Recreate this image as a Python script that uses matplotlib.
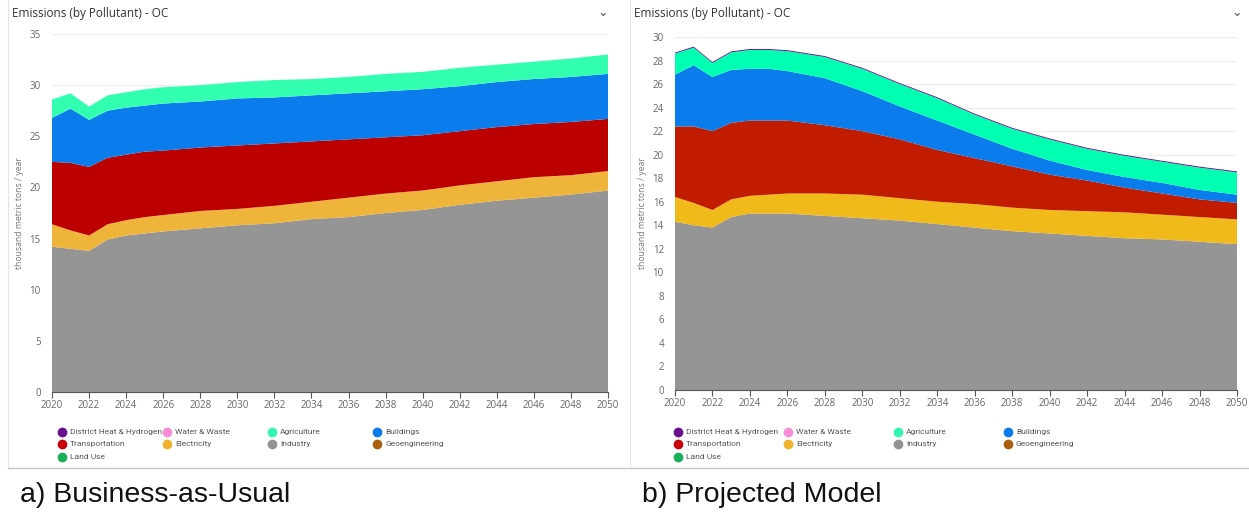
import numpy as np
import matplotlib
matplotlib.use('Agg')
import matplotlib.pyplot as plt
from matplotlib.lines import Line2D

plt.rcParams['font.family'] = ['Open Sans', 'DejaVu Sans']

years = [2020, 2021, 2022, 2023, 2024, 2025, 2026, 2028, 2030, 2032,
         2034, 2036, 2038, 2040, 2042, 2044, 2046, 2048, 2050]
xticks = list(range(2020, 2051, 2))

# a) Business-as-Usual (thousand metric tons / year, per sector)
bau_industry = [14.2, 14.0, 13.8, 14.9, 15.3, 15.5, 15.7, 16.0, 16.3, 16.5,
                16.9, 17.1, 17.5, 17.8, 18.3, 18.7, 19.0, 19.3, 19.7]
bau_electricity = [2.2, 1.8, 1.5, 1.5, 1.5, 1.6, 1.6, 1.7, 1.6, 1.7,
                   1.7, 1.9, 1.9, 1.9, 1.9, 1.9, 2.0, 1.9, 1.9]
bau_transport = [6.1, 6.6, 6.7, 6.5, 6.4, 6.4, 6.3, 6.2, 6.2, 6.1,
                 5.9, 5.7, 5.5, 5.4, 5.3, 5.3, 5.2, 5.2, 5.1]
bau_buildings = [4.3, 5.3, 4.6, 4.6, 4.6, 4.5, 4.6, 4.5, 4.6, 4.5,
                 4.5, 4.5, 4.5, 4.5, 4.4, 4.4, 4.4, 4.4, 4.4]
bau_agriculture = [1.8, 1.5, 1.3, 1.5, 1.5, 1.6, 1.6, 1.6, 1.6, 1.7,
                   1.6, 1.6, 1.7, 1.7, 1.8, 1.7, 1.7, 1.8, 1.9]

# b) Projected Model
pm_industry = [14.3, 14.0, 13.8, 14.7, 15.0, 15.0, 15.0, 14.8, 14.6, 14.4,
               14.1, 13.8, 13.5, 13.3, 13.1, 12.9, 12.8, 12.6, 12.4]
pm_electricity = [2.1, 1.9, 1.5, 1.5, 1.5, 1.6, 1.7, 1.9, 2.0, 1.9,
                  1.9, 2.0, 2.0, 2.0, 2.1, 2.2, 2.1, 2.1, 2.1]
pm_transport = [6.0, 6.5, 6.7, 6.5, 6.4, 6.3, 6.2, 5.8, 5.4, 5.0,
                4.4, 3.9, 3.5, 3.0, 2.6, 2.1, 1.8, 1.5, 1.4]
pm_buildings = [4.4, 5.2, 4.6, 4.5, 4.4, 4.4, 4.2, 4.0, 3.4, 2.8,
                2.5, 2.0, 1.5, 1.2, 0.9, 0.9, 0.9, 0.8, 0.7]
pm_agriculture = [1.8, 1.5, 1.2, 1.5, 1.6, 1.6, 1.7, 1.8, 1.9, 1.9,
                  1.9, 1.7, 1.7, 1.8, 1.8, 1.8, 1.8, 1.9, 1.9]
pm_district_heat = [0.08] * 19

legend_labels = ['District Heat & Hydrogen', 'Water & Waste', 'Agriculture', 'Buildings',
                 'Transportation', 'Electricity', 'Industry', 'Geoengineering',
                 'Land Use']
legend_colors = ['#6a0f8e', '#f58ed6', '#34f5b1', '#0a7beb',
                 '#c8000a', '#f0b22a', '#939393', '#a8600f',
                 '#18b05a']

fig = plt.figure(figsize=(12.49, 5.16), dpi=100)
W, H = 1249, 516


def fx(px):
    return px / W


def fy(py):
    return 1 - py / H


# card borders
fig.add_artist(Line2D([fx(8), fx(8)], [fy(0), fy(468)], color='#e4e4e4', lw=0.8))
fig.add_artist(Line2D([fx(630), fx(630)], [fy(0), fy(468)], color='#e4e4e4', lw=0.8))
fig.add_artist(Line2D([fx(8), fx(1249)], [fy(468), fy(468)], color='#c8c8c8', lw=1))


def panel(x0, x1, ytop, ybot, ymax, ystep, layers, colors, title_x, chev_x,
          leg_x, col_w, caption):
    ax = fig.add_axes([fx(x0), fy(ybot), fx(x1) - fx(x0), fy(ytop) - fy(ybot)])
    ax.stackplot(years, *layers, colors=colors, linewidth=0)
    ax.set_xlim(2020, 2050)
    ax.set_ylim(0, ymax)
    ax.set_yticks(np.arange(0, ymax + 0.1, ystep))
    ax.set_xticks(xticks)
    ax.grid(axis='y', color='#efefef', lw=1)
    ax.set_axisbelow(True)
    for s in ['top', 'right', 'left']:
        ax.spines[s].set_visible(False)
    ax.spines['bottom'].set_color('#555555')
    ax.spines['bottom'].set_linewidth(0.8)
    ax.tick_params(axis='y', length=0, labelsize=7, labelcolor='#666666', pad=8)
    ax.tick_params(axis='x', length=4, color='#555555', labelsize=7, labelcolor='#666666', pad=2)
    ax.set_ylabel('thousand metric tons / year', fontsize=6.2, color='#777777', labelpad=4)

    fig.text(fx(title_x), fy(14), 'Emissions (by Pollutant) - OC', fontsize=8.5,
             color='#333333', va='center', ha='left')
    fig.text(fx(chev_x), fy(12), '⌄', fontsize=9, color='#555555', va='center', ha='center')

    rows = [432, 444, 457]
    for i, (lab, c) in enumerate(zip(legend_labels, legend_colors)):
        r, k = divmod(i, 4)
        cx = leg_x + k * col_w
        fig.add_artist(Line2D([fx(cx)], [fy(rows[r])], marker='o', markersize=6,
                              color=c, lw=0))
        fig.text(fx(cx + 8), fy(rows[r]), lab, fontsize=6.0, color='#555555',
                 va='center', ha='left', family=['Roboto', 'DejaVu Sans'])

    fig.text(fx(title_x + 8), fy(495), caption, fontsize=20.5, color='#111111',
             va='center', ha='left', family=['Liberation Sans', 'DejaVu Sans'])
    return ax


panel(52, 608, 34, 392, 35, 5,
      [bau_industry, bau_electricity, bau_transport, bau_buildings, bau_agriculture],
      ['#959595', '#efb43a', '#bc0000', '#0a7ceb', '#33ffb0'],
      12, 603, 62, 105, 'a) Business-as-Usual')

panel(675, 1237, 37, 390, 30, 2,
      [pm_industry, pm_electricity, pm_transport, pm_buildings, pm_agriculture,
       pm_district_heat],
      ['#959595', '#f0ba1a', '#c11b00', '#0a7ceb', '#00ffb0', '#6a0f8e'],
      634, 1237, 678, 110, 'b) Projected Model')

fig.savefig('out.png', dpi=100)
